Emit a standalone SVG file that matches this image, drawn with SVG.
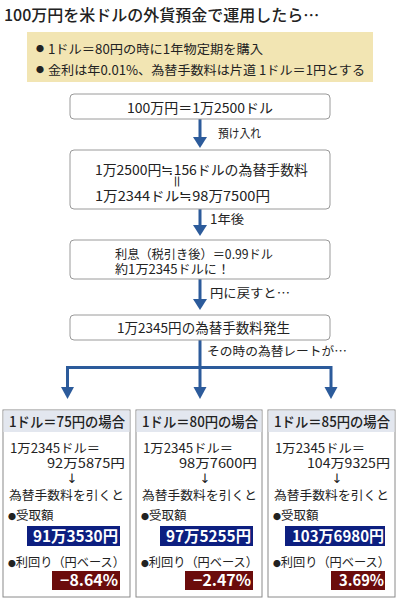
<svg xmlns="http://www.w3.org/2000/svg" width="400" height="600" viewBox="0 0 400 600">
<style>
text{font-family:"Noto Sans CJK JP","Noto Sans",sans-serif;fill:#222;}
.title{font-size:16px;font-weight:500;}
.note{font-size:12.5px;}
.box{fill:#fff;stroke:#9a9a9a;stroke-width:1;}
.bt{font-size:13.5px;}
.lbl{font-size:12.5px;}
.ln{stroke:#2c5b9b;stroke-width:3;fill:none;}
.ah{fill:#2c5b9b;}
.panel{fill:#fff;stroke:#8a8a8a;stroke-width:1;}
.hdr{fill:#e3e7ef;}
.ht{font-size:14px;font-weight:500;}
.pt{font-size:12.5px;}
.arr{font-family:"DejaVu Sans",sans-serif;font-size:13px;fill:#222;}
.val{font-size:15.5px;font-weight:bold;fill:#fff;}
.blue{fill:#0d1f80;}
.red{fill:#6b0c0c;}
.sm{font-size:8px;}
</style>
<g id="title"><text class="title" x="4" y="21">100万円を米ドルの外貨預金で運用したら…</text></g>
<g id="conditions">
<rect x="27" y="32" width="346" height="50" fill="#f2e5b3"/>
<text class="sm" x="36" y="52">●</text>
<text class="note" x="48" y="54" textLength="215" lengthAdjust="spacingAndGlyphs">1ドル＝80円の時に1年物定期を購入</text>
<text class="sm" x="36" y="73">●</text>
<text class="note" x="48" y="75" textLength="317" lengthAdjust="spacingAndGlyphs">金利は年0.01%、為替手数料は片道 1ドル＝1円とする</text>
</g>
<g id="connectors">
<line class="ln" x1="200" y1="119" x2="200" y2="138"/>
<polygon class="ah" points="193,137 207,137 200,148"/>
<line class="ln" x1="200" y1="209" x2="200" y2="226"/>
<polygon class="ah" points="193,225 207,225 200,236"/>
<line class="ln" x1="200" y1="279" x2="200" y2="300"/>
<polygon class="ah" points="193,299 207,299 200,310"/>
<polyline class="ln" points="67.5,388 67.5,367.5 331,367.5 331,388"/>
<line class="ln" x1="200" y1="340" x2="200" y2="388"/>
<polygon class="ah" points="61,387 74,387 67.5,399"/>
<polygon class="ah" points="193.5,387 206.5,387 200,399"/>
<polygon class="ah" points="324.5,387 337.5,387 331,399"/>
<text class="lbl" x="218" y="138" textLength="43" lengthAdjust="spacingAndGlyphs">預け入れ</text>
<text class="lbl" x="210" y="224" textLength="34" lengthAdjust="spacingAndGlyphs">1年後</text>
<text class="lbl" x="210" y="298" textLength="80" lengthAdjust="spacingAndGlyphs">円に戻すと…</text>
<text class="lbl" x="207" y="356" textLength="140" lengthAdjust="spacingAndGlyphs">その時の為替レートが…</text>
</g>
<g id="box1">
<rect class="box" x="70" y="94" width="260" height="25" rx="4"/>
<text class="bt" x="200" y="113" text-anchor="middle" textLength="146" lengthAdjust="spacingAndGlyphs">100万円＝1万2500ドル</text>
</g>
<g id="box2">
<rect class="box" x="70" y="150" width="260" height="59" rx="4"/>
<text class="bt" x="95" y="175" textLength="213" lengthAdjust="spacingAndGlyphs">1万2500円≒156ドルの為替手数料</text>
<text class="bt" x="0" y="0" text-anchor="middle" transform="translate(171.5,181.5) rotate(90)" style="font-size:14px">＝</text>
<text class="bt" x="95" y="201" textLength="175" lengthAdjust="spacingAndGlyphs">1万2344ドル≒98万7500円</text>
</g>
<g id="box3">
<rect class="box" x="70" y="240" width="260" height="39" rx="4"/>
<text class="bt" x="115" y="259" textLength="158" lengthAdjust="spacingAndGlyphs" style="font-size:12.5px">利息（税引き後）＝0.99ドル</text>
<text class="bt" x="115" y="273.5" textLength="115" lengthAdjust="spacingAndGlyphs" style="font-size:12.5px">約1万2345ドルに！</text>
</g>
<g id="box4">
<rect class="box" x="70" y="315" width="260" height="25" rx="4"/>
<text class="bt" x="117" y="333" textLength="173" lengthAdjust="spacingAndGlyphs">1万2345円の為替手数料発生</text>
</g>
<g id="panel75">
<rect class="panel" x="3" y="410" width="127" height="187"/>
<rect class="hdr" x="3.5" y="410.5" width="126" height="21.5"/>
<text class="ht" x="9" y="427" textLength="116" lengthAdjust="spacingAndGlyphs">1ドル＝75円の場合</text>
<text class="pt" x="10" y="453" textLength="90" lengthAdjust="spacingAndGlyphs">1万2345ドル＝</text>
<text class="pt" x="47" y="468" textLength="78" lengthAdjust="spacingAndGlyphs">92万5875円</text>
<text class="arr" x="72" y="483" text-anchor="middle">↓</text>
<text class="pt" x="9" y="500" textLength="115" lengthAdjust="spacingAndGlyphs">為替手数料を引くと</text>
<text class="pt" x="8" y="520"><tspan class="sm">●</tspan>受取額</text>
<rect class="blue" x="27" y="526" width="93" height="20"/>
<text class="val" x="33" y="542" textLength="85" lengthAdjust="spacingAndGlyphs">91万3530円</text>
<text class="pt" x="8" y="567" textLength="117" lengthAdjust="spacingAndGlyphs"><tspan class="sm">●</tspan>利回り（円ベース）</text>
<rect class="red" x="52" y="571" width="68" height="19"/>
<text class="val" x="60" y="586" textLength="58" lengthAdjust="spacingAndGlyphs">−8.64%</text>
</g>
<g id="panel80">
<rect class="panel" x="136" y="410" width="126" height="187"/>
<rect class="hdr" x="136.5" y="410.5" width="125" height="21.5"/>
<text class="ht" x="142" y="427" textLength="116" lengthAdjust="spacingAndGlyphs">1ドル＝80円の場合</text>
<text class="pt" x="143" y="453" textLength="90" lengthAdjust="spacingAndGlyphs">1万2345ドル＝</text>
<text class="pt" x="179" y="468" textLength="78" lengthAdjust="spacingAndGlyphs">98万7600円</text>
<text class="arr" x="205" y="483" text-anchor="middle">↓</text>
<text class="pt" x="142" y="500" textLength="115" lengthAdjust="spacingAndGlyphs">為替手数料を引くと</text>
<text class="pt" x="141" y="520"><tspan class="sm">●</tspan>受取額</text>
<rect class="blue" x="160" y="526" width="93" height="20"/>
<text class="val" x="166" y="542" textLength="85" lengthAdjust="spacingAndGlyphs">97万5255円</text>
<text class="pt" x="141" y="567" textLength="117" lengthAdjust="spacingAndGlyphs"><tspan class="sm">●</tspan>利回り（円ベース）</text>
<rect class="red" x="185" y="571" width="68" height="19"/>
<text class="val" x="193" y="586" textLength="58" lengthAdjust="spacingAndGlyphs">−2.47%</text>
</g>
<g id="panel85">
<rect class="panel" x="268" y="410" width="127" height="187"/>
<rect class="hdr" x="268.5" y="410.5" width="126" height="21.5"/>
<text class="ht" x="274" y="427" textLength="116" lengthAdjust="spacingAndGlyphs">1ドル＝85円の場合</text>
<text class="pt" x="275" y="453" textLength="90" lengthAdjust="spacingAndGlyphs">1万2345ドル＝</text>
<text class="pt" x="307" y="468" textLength="83" lengthAdjust="spacingAndGlyphs">104万9325円</text>
<text class="arr" x="337" y="483" text-anchor="middle">↓</text>
<text class="pt" x="274" y="500" textLength="115" lengthAdjust="spacingAndGlyphs">為替手数料を引くと</text>
<text class="pt" x="273" y="520"><tspan class="sm">●</tspan>受取額</text>
<rect class="blue" x="285" y="526" width="100" height="20"/>
<text class="val" x="292" y="542" textLength="92" lengthAdjust="spacingAndGlyphs">103万6980円</text>
<text class="pt" x="273" y="567" textLength="117" lengthAdjust="spacingAndGlyphs"><tspan class="sm">●</tspan>利回り（円ベース）</text>
<rect class="red" x="331" y="571" width="54" height="19"/>
<text class="val" x="339" y="586" textLength="45" lengthAdjust="spacingAndGlyphs">3.69%</text>
</g>
</svg>
